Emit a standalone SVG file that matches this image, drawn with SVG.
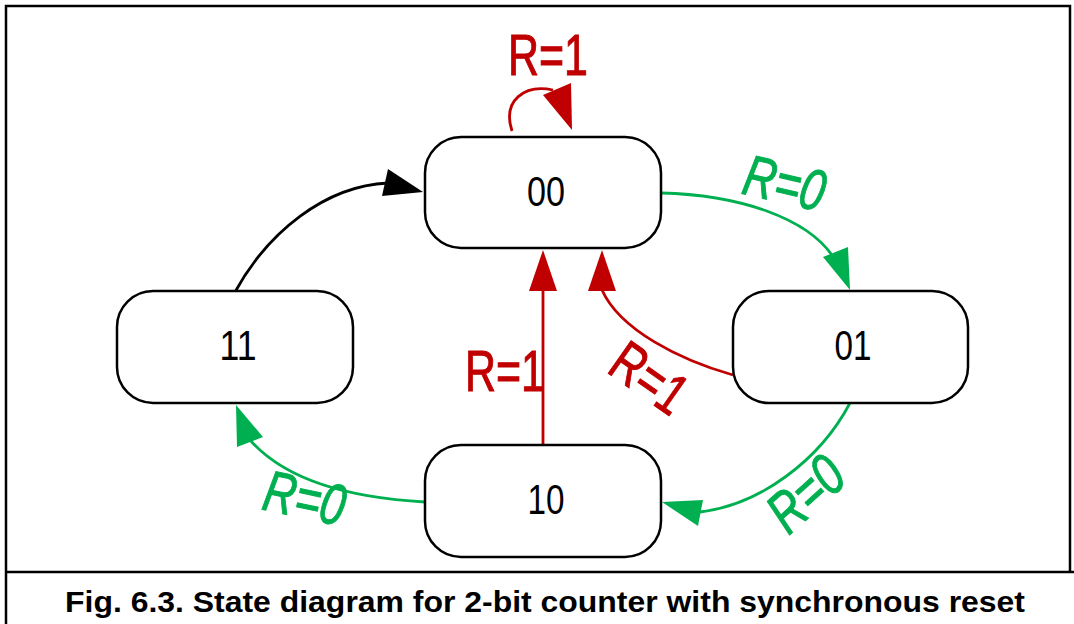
<svg xmlns="http://www.w3.org/2000/svg" width="1074" height="624" viewBox="0 0 1074 624">
<style>
.node rect{fill:#fff;stroke:#000;stroke-width:2.5}
.node text{font-family:"Liberation Sans",Arial,sans-serif;font-size:42px;text-anchor:middle;fill:#000}
.e{fill:none;stroke-width:2.8}
.red{stroke:#C00000}
.grn{stroke:#00B050}
.blk{stroke:#000}
.lbl{font-family:"Liberation Sans",Arial,sans-serif;font-size:58px;text-anchor:middle;stroke-width:1}
.lr{fill:#C00000;stroke:#C00000}
.lg{fill:#00B050;stroke:#00B050;font-style:italic}
.cap{font-family:"Liberation Sans",Arial,sans-serif;font-size:30px;font-weight:bold;text-anchor:middle;fill:#000}
</style>
<rect x="0" y="0" width="1074" height="624" fill="#fff"/>
<g id="frame" fill="none" stroke="#000" stroke-width="2.5">
<path d="M6,624 V6 H1070 V572"/>
<line x1="6" y1="572" x2="1074" y2="572"/>
</g>
<g id="connectors">
<path class="e blk" d="M235,292 C268,232 325,186 388,183"/>
<polygon points="388,169 423,192 382,196" fill="#000"/>
<path class="e red" d="M512,131 C502,100 525,84 553,90"/>
<polygon points="543,95 571,83 572,130" fill="#C00000"/>
<path class="e grn" d="M661,193 C740,195 808,218 834,258"/>
<polygon points="823,257 848,247 850,290" fill="#00B050"/>
<path class="e red" d="M733,375 C680,360 620,330 602,290"/>
<polygon points="588,291 616,291 602,250" fill="#C00000"/>
<path class="e red" d="M543,445 V290"/>
<polygon points="529,291 557,291 543,250" fill="#C00000"/>
<path class="e grn" d="M850,403 C820,460 760,505 700,512"/>
<polygon points="703,500 698,526 662,502" fill="#00B050"/>
<path class="e grn" d="M425,502 C350,498 285,480 250,440"/>
<polygon points="237,447 263,437 236,405" fill="#00B050"/>
<text class="lbl lr" x="548" y="75" textLength="80" lengthAdjust="spacingAndGlyphs">R=1</text>
<text class="lbl lr" x="505" y="391" textLength="80" lengthAdjust="spacingAndGlyphs">R=1</text>
<text class="lbl lr" transform="translate(650,377) rotate(35)" x="0" y="21" textLength="80" lengthAdjust="spacingAndGlyphs">R=1</text>
<text class="lbl lg" transform="translate(785,182) rotate(13)" x="0" y="21" textLength="82" lengthAdjust="spacingAndGlyphs">R=0</text>
<text class="lbl lg" transform="translate(805,493) rotate(-42)" x="0" y="21" textLength="82" lengthAdjust="spacingAndGlyphs">R=0</text>
<text class="lbl lg" transform="translate(305,497) rotate(12)" x="0" y="21" textLength="82" lengthAdjust="spacingAndGlyphs">R=0</text>
</g>
<g id="n00" class="node"><rect x="425" y="137" width="236" height="111" rx="36"/><text x="546" y="206" textLength="38" lengthAdjust="spacingAndGlyphs">00</text></g>
<g id="n11" class="node"><rect x="117" y="291" width="236" height="112" rx="36"/><text x="238" y="360" textLength="37" lengthAdjust="spacingAndGlyphs">11</text></g>
<g id="n01" class="node"><rect x="733" y="291" width="235" height="112" rx="36"/><text x="853" y="360" textLength="37" lengthAdjust="spacingAndGlyphs">01</text></g>
<g id="n10" class="node"><rect x="425" y="445" width="236" height="112" rx="36"/><text x="546" y="514" textLength="37" lengthAdjust="spacingAndGlyphs">10</text></g>
<text class="cap" x="545" y="612" textLength="960" lengthAdjust="spacingAndGlyphs">Fig. 6.3. State diagram for 2-bit counter with synchronous reset</text>
</svg>
